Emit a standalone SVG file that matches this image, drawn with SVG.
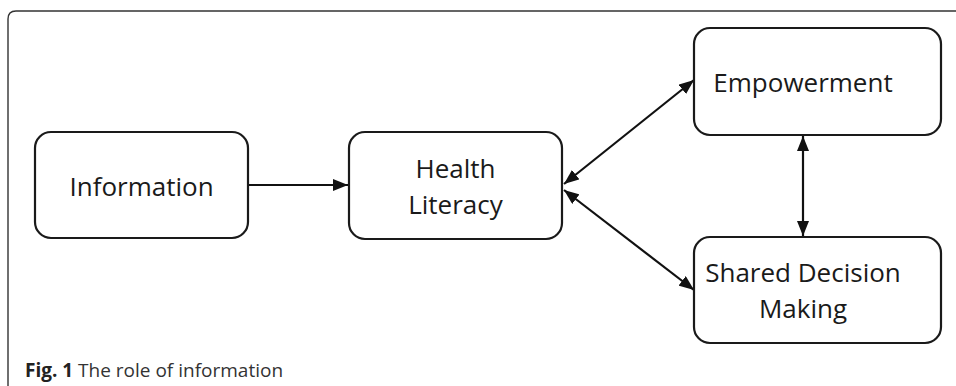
<svg xmlns="http://www.w3.org/2000/svg" width="956" height="386" viewBox="0 0 956 386">
<style>
.box{fill:#fff;stroke:#1a1a1a;stroke-width:2.2}
.lbl{font-family:"Open Sans","Liberation Sans",sans-serif;font-size:26px;fill:#1a1a1a;text-anchor:middle}
.con{stroke:#111;stroke-width:2.2;fill:none}
.cap{font-family:"Open Sans","Liberation Sans",sans-serif;font-size:19px;fill:#333}
</style>
<defs>
<marker id="ah" viewBox="0 0 15 12" refX="15" refY="6" markerWidth="15" markerHeight="12" markerUnits="userSpaceOnUse" orient="auto-start-reverse">
<path d="M0,0 L15,6 L0,12 z" fill="#111"/>
</marker>
</defs>
<rect width="956" height="386" fill="#fff"/>
<path d="M8,400 V19 Q8,11 16,11 H970" fill="none" stroke="#333" stroke-width="1.4"/>
<g id="connectors">
<line class="con" x1="248" y1="185" x2="348" y2="185" marker-end="url(#ah)"/>
<line class="con" x1="564" y1="184" x2="694" y2="80" marker-start="url(#ah)" marker-end="url(#ah)"/>
<line class="con" x1="564" y1="190" x2="694" y2="290" marker-start="url(#ah)" marker-end="url(#ah)"/>
<line class="con" x1="803" y1="136" x2="803" y2="236" marker-start="url(#ah)" marker-end="url(#ah)"/>
</g>
<g id="information">
<rect class="box" x="35" y="132" width="213" height="106" rx="16"/>
<text class="lbl" x="141.5" y="196">Information</text>
</g>
<g id="health-literacy">
<rect class="box" x="349" y="132" width="213" height="107" rx="16"/>
<text class="lbl" x="455.5" y="178">Health</text>
<text class="lbl" x="455.5" y="214">Literacy</text>
</g>
<g id="empowerment">
<rect class="box" x="694" y="28" width="247" height="107" rx="16"/>
<text class="lbl" x="803" y="92">Empowerment</text>
</g>
<g id="shared-decision-making">
<rect class="box" x="694" y="237" width="247" height="106" rx="16"/>
<text class="lbl" x="803" y="282">Shared Decision</text>
<text class="lbl" x="803" y="318">Making</text>
</g>
<text class="cap" x="25" y="377"><tspan font-weight="bold" fill="#222">Fig. 1</tspan> The role of information</text>
</svg>
